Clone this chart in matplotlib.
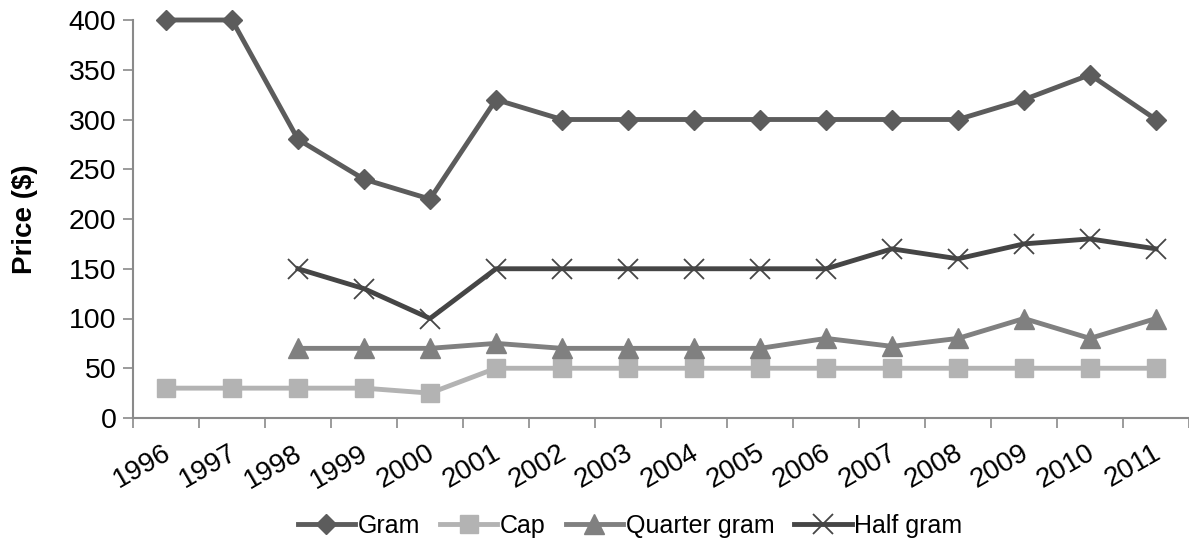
import matplotlib
matplotlib.use("Agg")
import matplotlib.pyplot as plt
import matplotlib.transforms as mtransforms
import numpy as np

years = [str(y) for y in range(1996, 2012)]
gram = [400, 400, 280, 240, 220, 320, 300, 300, 300, 300, 300, 300, 300, 320, 345, 300]
cap = [30, 30, 30, 30, 25, 50, 50, 50, 50, 50, 50, 50, 50, 50, 50, 50]
quarter_gram = [None, None, 70, 70, 70, 75, 70, 70, 70, 70, 80, 72, 80, 100, 80, 100]
half_gram = [None, None, 150, 130, 100, 150, 150, 150, 150, 150, 150, 170, 160, 175, 180, 170]
yticks = [0, 50, 100, 150, 200, 250, 300, 350, 400]

plt.rcParams['font.family'] = ['Liberation Sans', 'DejaVu Sans']

fig = plt.figure(figsize=(11.89, 5.44), dpi=100)
ax = fig.add_axes([133/1189, 1 - 418/544, 1 - 133/1189, (418 - 20)/544])

x = np.arange(len(years))

def arr(v):
    return np.array([np.nan if a is None else a for a in v], dtype=float)

ax.plot(x, arr(gram), color='#5c5c5c', lw=3.5, marker='D', ms=10, label='Gram', zorder=4, clip_on=False)
ax.plot(x, arr(cap), color='#b3b3b3', lw=3.5, marker='s', ms=13.5, label='Cap', zorder=3, clip_on=False)
ax.plot(x, arr(quarter_gram), color='#808080', lw=3.5, marker='^', ms=14, label='Quarter gram', zorder=3, clip_on=False)
ax.plot(x, arr(half_gram), color='#454545', lw=3.5, marker='x', ms=14, mew=1.3, label='Half gram', zorder=4, clip_on=False)

ax.set_xlim(-0.5, len(years) - 0.5)
ax.set_ylim(0, 400)
ax.set_yticks(yticks)
ax.tick_params(axis='y', labelsize=20.5, length=7, color='#8a8a8a', width=1.2, pad=5)

ax.set_xticks(np.arange(-0.5, len(years) - 0.4, 1.0))
ax.set_xticklabels([])
ax.tick_params(axis='x', which='major', length=7, color='#8a8a8a', width=1.2)
ax.set_xticks(x, minor=True)
ax.set_xticklabels(years, minor=True, rotation=30, ha='right', rotation_mode='anchor', fontsize=20)
ax.tick_params(axis='x', which='minor', length=0, pad=16)
offset = mtransforms.ScaledTranslation(-4/100, 0, fig.dpi_scale_trans)
for lab in ax.get_xticklabels(minor=True):
    lab.set_transform(lab.get_transform() + offset)

for s in ['top', 'right']:
    ax.spines[s].set_visible(False)
for s in ['left', 'bottom']:
    ax.spines[s].set_color('#8a8a8a')
    ax.spines[s].set_linewidth(1.5)

ax.set_ylabel('Price ($)', fontsize=20, fontweight='bold')
ax.yaxis.set_label_coords((38 - 133)/1056, 0.5)
ax.patch.set_alpha(0)

fig.legend(loc='center', bbox_to_anchor=(630/1189, 1 - 526/544), ncol=4, frameon=False,
           fontsize=18, handlelength=2.3, handletextpad=0.1, columnspacing=0.8)

fig.savefig('out.png', dpi=100)
